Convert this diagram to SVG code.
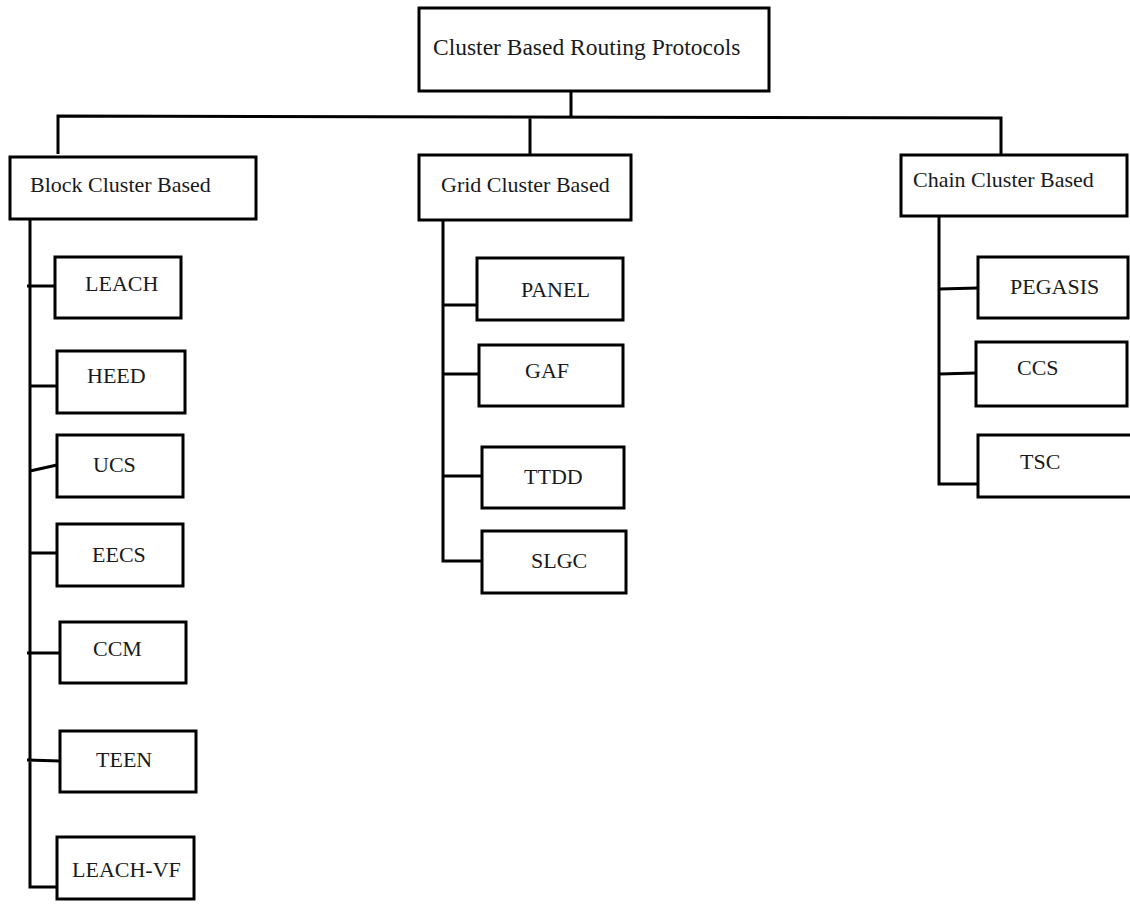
<svg xmlns="http://www.w3.org/2000/svg" width="1130" height="904" viewBox="0 0 1130 904">
<style>
.box{fill:#fff;stroke:#000;stroke-width:3}
.ln{fill:none;stroke:#000;stroke-width:3}
text{font-family:"Liberation Serif","Times New Roman",serif;font-size:22px;fill:#1a1a1a}
</style>
<rect width="1130" height="904" fill="#fff"/>
<g id="connectors">
<path class="ln" d="M571 91 V117 M58 154 V116 L1001 118 V154 M530 117 V155"/>
<path class="ln" d="M30 219 V887 H57 M27 286 H55 M30 386 H57 M30 471 L57 465 M30 553 H57 M27 653 H60 M27 760 L60 761"/>
<path class="ln" d="M443 220 V561 H482 M443 305 H480 M443 374 H479 M443 476 H482"/>
<path class="ln" d="M939 216 V484 H978 M939 289 L978 288 M939 374 L976 373"/>
</g>
<g id="root"><rect class="box" x="419" y="8" width="350" height="83"/><text x="433" y="55" style="font-size:23.5px">Cluster Based Routing Protocols</text></g>
<g id="block"><rect class="box" x="10" y="157" width="246" height="62"/><text x="30" y="192">Block Cluster Based</text></g>
<g id="grid"><rect class="box" x="419" y="155" width="212" height="65"/><text x="441" y="192">Grid Cluster Based</text></g>
<g id="chain"><rect class="box" x="901" y="155" width="226" height="61"/><text x="913" y="187">Chain Cluster Based</text></g>
<g id="leach"><rect class="box" x="55" y="257" width="126" height="61"/><text x="85" y="291">LEACH</text></g>
<g id="heed"><rect class="box" x="57" y="351" width="128" height="62"/><text x="87" y="383">HEED</text></g>
<g id="ucs"><rect class="box" x="57" y="435" width="126" height="62"/><text x="93" y="472">UCS</text></g>
<g id="eecs"><rect class="box" x="57" y="524" width="126" height="62"/><text x="92" y="562">EECS</text></g>
<g id="ccm"><rect class="box" x="60" y="622" width="126" height="61"/><text x="93" y="656">CCM</text></g>
<g id="teen"><rect class="box" x="60" y="731" width="136" height="61"/><text x="96" y="767">TEEN</text></g>
<g id="leachvf"><rect class="box" x="57" y="837" width="137" height="62"/><text x="72" y="877">LEACH-VF</text></g>
<g id="panel"><rect class="box" x="477" y="258" width="146" height="62"/><text x="521" y="297">PANEL</text></g>
<g id="gaf"><rect class="box" x="479" y="345" width="144" height="61"/><text x="525" y="378">GAF</text></g>
<g id="ttdd"><rect class="box" x="482" y="447" width="142" height="61"/><text x="524" y="484">TTDD</text></g>
<g id="slgc"><rect class="box" x="482" y="531" width="144" height="62"/><text x="531" y="568">SLGC</text></g>
<g id="pegasis"><rect class="box" x="978" y="257" width="150" height="61"/><text x="1010" y="294">PEGASIS</text></g>
<g id="ccs"><rect class="box" x="976" y="342" width="151" height="64"/><text x="1017" y="375">CCS</text></g>
<g id="tsc"><rect class="box" x="978" y="435" width="160" height="62"/><text x="1020" y="469">TSC</text></g>
</svg>
